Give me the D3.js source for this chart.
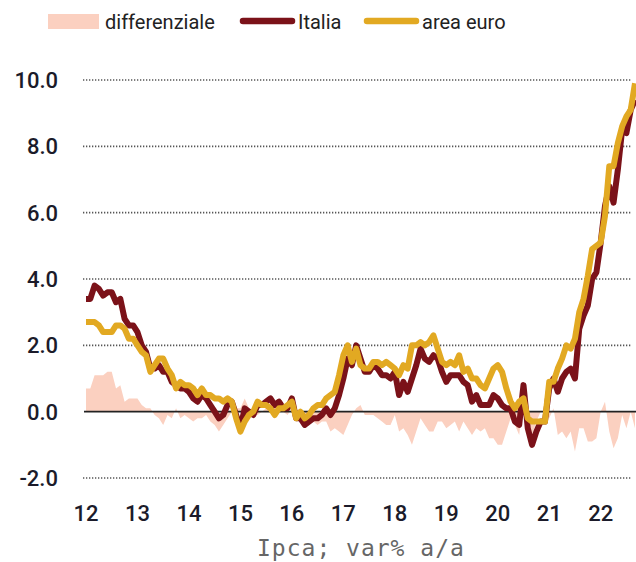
<!DOCTYPE html>
<html>
<head>
<meta charset="utf-8">
<title>Ipca Italia vs area euro</title>
<script src="https://d3js.org/d3.v7.min.js"></script>
<style>
  body { margin: 0; background: #fff; }
  svg { display: block; }
</style>
</head>
<body>
<script>
  // monthly HICP yoy, Jan 2012 - Sep 2022
  var startYear = 2012;

  var italia = [
    3.4, 3.4, 3.8, 3.7, 3.5, 3.6, 3.6, 3.3, 3.4, 2.8, 2.6, 2.6,
    2.4, 2.0, 1.8, 1.3, 1.3, 1.4, 1.2, 1.2, 0.9, 0.8, 0.7, 0.7,
    0.6, 0.4, 0.3, 0.5, 0.4, 0.2, 0.0, -0.2, -0.1, 0.2, 0.3, -0.1,
    -0.5, 0.1, 0.0, -0.1, 0.2, 0.2, 0.3, 0.4, 0.2, 0.3, 0.1, 0.1,
    0.4, -0.2, -0.2, -0.4, -0.3, -0.2, -0.2, -0.1, 0.1, -0.1, 0.1, 0.5,
    1.0, 1.6, 1.4, 2.0, 1.6, 1.2, 1.2, 1.4, 1.3, 1.1, 1.1, 1.0,
    1.2, 0.5, 0.9, 0.6, 1.0, 1.4, 1.9, 1.6, 1.5, 1.7, 1.6, 1.2,
    0.9, 1.1, 1.1, 1.1, 0.9, 0.8, 0.3, 0.5, 0.2, 0.2, 0.2, 0.5,
    0.4, 0.2, 0.1, 0.1, -0.3, -0.4, 0.8, -0.5, -1.0, -0.6, -0.3, -0.3,
    0.7, 1.0, 0.6, 1.0, 1.2, 1.3, 1.0, 2.5, 2.9, 3.2, 4.0, 4.2,
    5.1, 6.2, 6.8, 6.3, 7.3, 8.5, 8.4, 9.1, 9.4
  ];

  var areaEuro = [
    2.7, 2.7, 2.7, 2.6, 2.4, 2.4, 2.4, 2.6, 2.6, 2.5, 2.2, 2.2,
    2.0, 1.8, 1.7, 1.2, 1.4, 1.6, 1.6, 1.3, 1.1, 0.7, 0.9, 0.8,
    0.8, 0.7, 0.5, 0.7, 0.5, 0.5, 0.4, 0.4, 0.3, 0.4, 0.3, -0.2,
    -0.6, -0.3, -0.1, 0.0, 0.3, 0.2, 0.2, 0.1, -0.1, 0.1, 0.1, 0.2,
    0.3, -0.2, 0.0, -0.2, -0.1, 0.1, 0.2, 0.2, 0.4, 0.5, 0.6, 1.1,
    1.7, 2.0, 1.5, 1.9, 1.4, 1.3, 1.3, 1.5, 1.5, 1.4, 1.5, 1.4,
    1.3, 1.1, 1.4, 1.3, 2.0, 2.0, 2.1, 2.0, 2.1, 2.3, 1.9, 1.5,
    1.4, 1.5, 1.4, 1.7, 1.2, 1.3, 1.0, 1.0, 0.8, 0.7, 1.0, 1.3,
    1.4, 1.2, 0.7, 0.3, 0.1, 0.3, 0.4, -0.2, -0.3, -0.3, -0.3, -0.3,
    0.9, 0.9, 1.3, 1.6, 2.0, 1.9, 2.2, 3.0, 3.4, 4.1, 4.9, 5.0,
    5.1, 5.9, 7.4, 7.4, 8.1, 8.6, 8.9, 9.1, 9.9
  ];

  var yTicks = [-2, 0, 2, 4, 6, 8, 10];
  var xTicks = [2012, 2013, 2014, 2015, 2016, 2017, 2018, 2019, 2020, 2021, 2022];
  var legendLabels = ["differenziale", "Italia", "area euro"];
  var subtitle = "Ipca; var% a/a";

  var colRed = "#7b1219";
  var colGold = "#e2a922";
  var colDiff = "#fbd0c0";

  var w = 636, h = 562;

  var svg = d3.select("body").append("svg")
    .attr("width", w)
    .attr("height", h);

  var data = italia.map(function(v, i) {
    return { t: startYear + i / 12, it: v, ea: areaEuro[i], diff: v - areaEuro[i] };
  });

  var x = d3.scaleLinear()
    .domain([2012, 2022 + 8 / 12])
    .range([86, 635]);

  var y = d3.scaleLinear()
    .domain([-2, 10])
    .range([478, 80]);

  // dotted grid
  svg.append("g")
    .selectAll("line")
    .data(yTicks.filter(function(d) { return d !== 0; }))
    .enter()
    .append("line")
    .attr("x1", 83)
    .attr("x2", 631)
    .attr("y1", function(d) { return y(d); })
    .attr("y2", function(d) { return y(d); })
    .attr("stroke", "#555")
    .attr("stroke-width", 1.6)
    .attr("stroke-dasharray", "1.3,1.7");

  // y labels (plain hyphen for the minus, as in the source)
  svg.append("g")
    .selectAll("text")
    .data(yTicks)
    .enter()
    .append("text")
    .text(function(d) { return d.toFixed(1); })
    .attr("x", 58)
    .attr("y", function(d) { return y(d); })
    .attr("dy", "0.36em")
    .attr("text-anchor", "end")
    .attr("font-family", "Roboto, sans-serif")
    .attr("font-weight", 500)
    .attr("font-size", 22)
    .attr("fill", "#1b1b2a");

  // x labels
  svg.append("g")
    .selectAll("text")
    .data(xTicks)
    .enter()
    .append("text")
    .text(function(d) { return String(d).slice(2); })
    .attr("x", function(d) { return x(d); })
    .attr("y", 521)
    .attr("text-anchor", "middle")
    .attr("font-family", "Roboto, sans-serif")
    .attr("font-weight", 500)
    .attr("font-size", 22)
    .attr("fill", "#1b1b2a");

  // differenziale area
  var area = d3.area()
    .x(function(d) { return x(d.t); })
    .y0(y(0))
    .y1(function(d) { return y(d.diff); });

  svg.append("path")
    .datum(data)
    .attr("d", area)
    .attr("fill", colDiff);

  // zero line
  svg.append("line")
    .attr("x1", 84)
    .attr("x2", 636)
    .attr("y1", y(0))
    .attr("y2", y(0))
    .attr("stroke", "#222")
    .attr("stroke-width", 1.8);

  var lineIt = d3.line()
    .x(function(d) { return x(d.t); })
    .y(function(d) { return y(d.it); });

  var lineEa = d3.line()
    .x(function(d) { return x(d.t); })
    .y(function(d) { return y(d.ea); });

  svg.append("path")
    .datum(data)
    .attr("d", lineIt)
    .attr("fill", "none")
    .attr("stroke", colRed)
    .attr("stroke-width", 6)
    .attr("stroke-linejoin", "round");

  svg.append("path")
    .datum(data)
    .attr("d", lineEa)
    .attr("fill", "none")
    .attr("stroke", colGold)
    .attr("stroke-width", 6)
    .attr("stroke-linejoin", "round");

  // legend
  var legend = svg.append("g");

  legend.append("rect")
    .attr("x", 48)
    .attr("y", 14)
    .attr("width", 51)
    .attr("height", 15)
    .attr("fill", colDiff);

  legend.append("line")
    .attr("x1", 243).attr("x2", 292)
    .attr("y1", 21).attr("y2", 21)
    .attr("stroke", colRed)
    .attr("stroke-width", 6.5)
    .attr("stroke-linecap", "round");

  legend.append("line")
    .attr("x1", 367).attr("x2", 416)
    .attr("y1", 21).attr("y2", 21)
    .attr("stroke", colGold)
    .attr("stroke-width", 6.5)
    .attr("stroke-linecap", "round");

  var legendX = [105, 298, 422];

  legend.selectAll("text")
    .data(legendLabels)
    .enter()
    .append("text")
    .text(function(d) { return d; })
    .attr("x", function(d, i) { return legendX[i]; })
    .attr("y", 29)
    .attr("font-family", "Roboto, sans-serif")
    .attr("font-size", 20)
    .attr("fill", "#222");

  svg.append("text")
    .text(subtitle)
    .attr("x", 257)
    .attr("y", 556)
    .attr("font-family", "'DejaVu Sans Mono', monospace")
    .attr("font-size", 23)
    .attr("letter-spacing", 1)
    .attr("fill", "#666");

</script>
</body>
</html>
